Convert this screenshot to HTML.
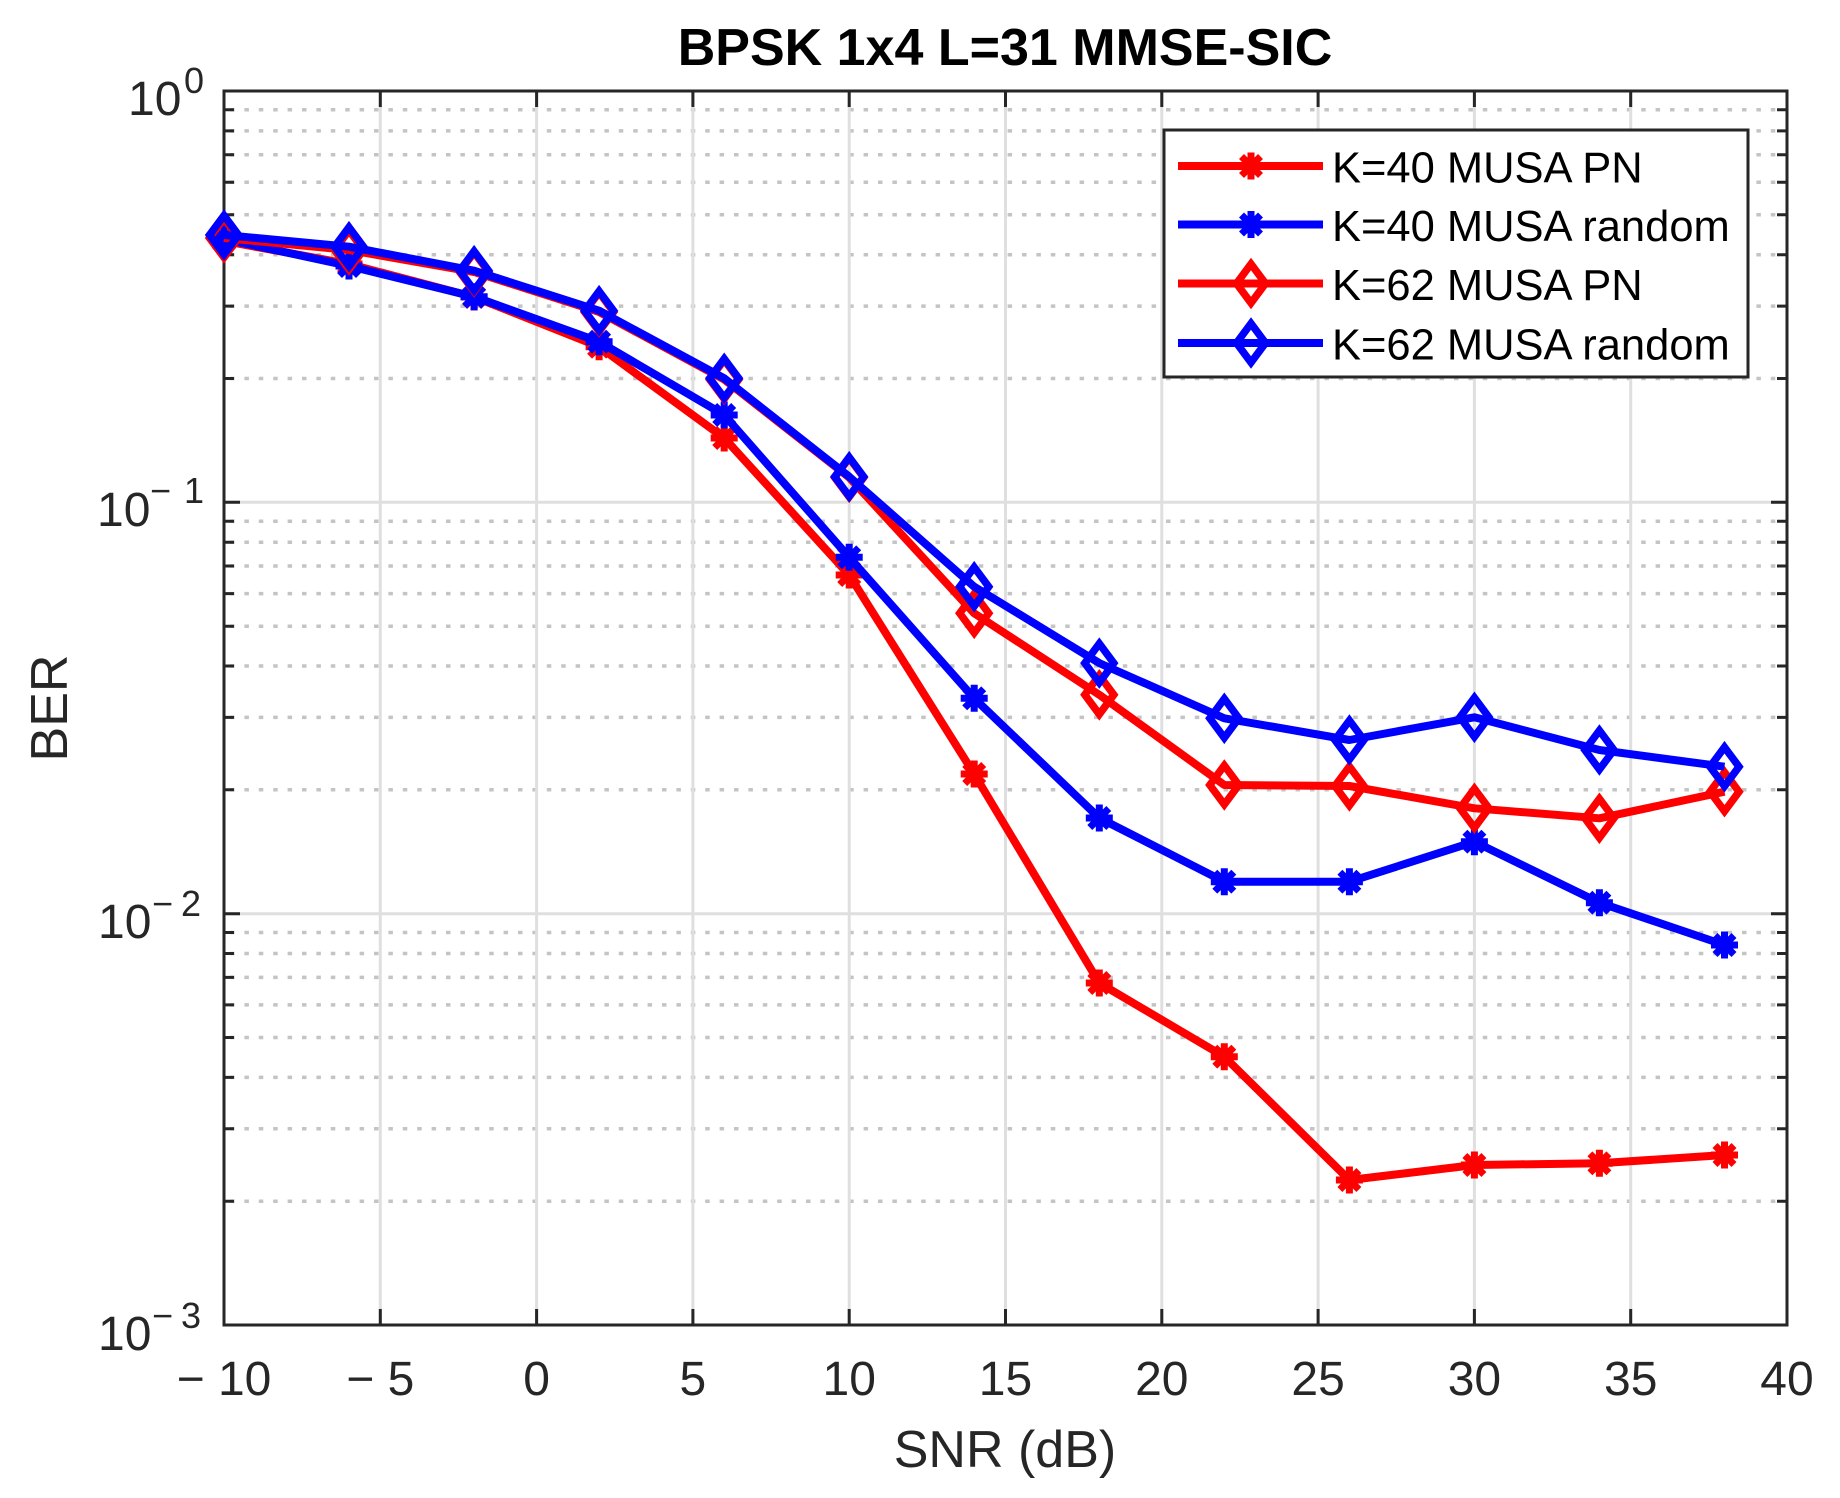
<!DOCTYPE html>
<html>
<head>
<meta charset="utf-8">
<style>
html,body{margin:0;padding:0;background:#fff;}
svg{display:block;}
text{font-family:"Liberation Sans",Arial,sans-serif;}
</style>
</head>
<body>
<svg width="1840" height="1498" viewBox="0 0 1840 1498" xmlns="http://www.w3.org/2000/svg">
<defs>
  <path id="dm" d="M0,-19.5 L14.5,0 L0,19.5 L-14.5,0 Z" fill="none" stroke-width="7.5" stroke-linejoin="miter"/>
  <path id="st" d="M-13.5,0H13.5M0,-13.5V13.5M-9.5,-9.5L9.5,9.5M-9.5,9.5L9.5,-9.5" fill="none" stroke-width="7"/>
</defs>
<rect x="0" y="0" width="1840" height="1498" fill="#fff"/>

<!-- minor y grid (dotted) -->
<g stroke="#c4c4c4" stroke-width="3.5" stroke-dasharray="4.5 9.9">
  <line x1="230" x2="1782" y1="109.8" y2="109.8"/>
  <line x1="230" x2="1782" y1="130.9" y2="130.9"/>
  <line x1="230" x2="1782" y1="154.7" y2="154.7"/>
  <line x1="230" x2="1782" y1="182.3" y2="182.3"/>
  <line x1="230" x2="1782" y1="214.8" y2="214.8"/>
  <line x1="230" x2="1782" y1="254.7" y2="254.7"/>
  <line x1="230" x2="1782" y1="306.1" y2="306.1"/>
  <line x1="230" x2="1782" y1="378.5" y2="378.5"/>
  <line x1="230" x2="1782" y1="521.2" y2="521.2"/>
  <line x1="230" x2="1782" y1="542.2" y2="542.2"/>
  <line x1="230" x2="1782" y1="566.0" y2="566.0"/>
  <line x1="230" x2="1782" y1="593.6" y2="593.6"/>
  <line x1="230" x2="1782" y1="626.2" y2="626.2"/>
  <line x1="230" x2="1782" y1="666.0" y2="666.0"/>
  <line x1="230" x2="1782" y1="717.4" y2="717.4"/>
  <line x1="230" x2="1782" y1="789.8" y2="789.8"/>
  <line x1="230" x2="1782" y1="932.5" y2="932.5"/>
  <line x1="230" x2="1782" y1="953.5" y2="953.5"/>
  <line x1="230" x2="1782" y1="977.4" y2="977.4"/>
  <line x1="230" x2="1782" y1="1004.9" y2="1004.9"/>
  <line x1="230" x2="1782" y1="1037.5" y2="1037.5"/>
  <line x1="230" x2="1782" y1="1077.4" y2="1077.4"/>
  <line x1="230" x2="1782" y1="1128.8" y2="1128.8"/>
  <line x1="230" x2="1782" y1="1201.2" y2="1201.2"/>
</g>
<!-- major grid -->
<g stroke="#dfdfdf" stroke-width="3">
  <line x1="224" x2="1787" y1="502.3" y2="502.3"/>
  <line x1="224" x2="1787" y1="913.7" y2="913.7"/>
  <line x1="380.3" x2="380.3" y1="91" y2="1325"/>
  <line x1="536.6" x2="536.6" y1="91" y2="1325"/>
  <line x1="692.9" x2="692.9" y1="91" y2="1325"/>
  <line x1="849.2" x2="849.2" y1="91" y2="1325"/>
  <line x1="1005.5" x2="1005.5" y1="91" y2="1325"/>
  <line x1="1161.8" x2="1161.8" y1="91" y2="1325"/>
  <line x1="1318.1" x2="1318.1" y1="91" y2="1325"/>
  <line x1="1474.4" x2="1474.4" y1="91" y2="1325"/>
  <line x1="1630.7" x2="1630.7" y1="91" y2="1325"/>
</g>

<!-- axes box and ticks -->
<g stroke="#262626" stroke-width="3" fill="none">
  <rect x="224" y="91" width="1563" height="1234"/>
  <path d="M380.3,1325V1309M536.6,1325V1309M692.9,1325V1309M849.2,1325V1309M1005.5,1325V1309M1161.8,1325V1309M1318.1,1325V1309M1474.4,1325V1309M1630.7,1325V1309
           M380.3,91V107M536.6,91V107M692.9,91V107M849.2,91V107M1005.5,91V107M1161.8,91V107M1318.1,91V107M1474.4,91V107M1630.7,91V107"/>
  <path d="M224,502.3H240M224,913.7H240M1787,502.3H1771M1787,913.7H1771"/>
  <path d="M224,109.8h10M224,130.9h10M224,154.7h10M224,182.3h10M224,214.8h10M224,254.7h10M224,306.1h10M224,378.5h10
           M224,521.2h10M224,542.2h10M224,566.0h10M224,593.6h10M224,626.2h10M224,666.0h10M224,717.4h10M224,789.8h10
           M224,932.5h10M224,953.5h10M224,977.4h10M224,1004.9h10M224,1037.5h10M224,1077.4h10M224,1128.8h10M224,1201.2h10"/>
  <path d="M1787,109.8h-10M1787,130.9h-10M1787,154.7h-10M1787,182.3h-10M1787,214.8h-10M1787,254.7h-10M1787,306.1h-10M1787,378.5h-10
           M1787,521.2h-10M1787,542.2h-10M1787,566.0h-10M1787,593.6h-10M1787,626.2h-10M1787,666.0h-10M1787,717.4h-10M1787,789.8h-10
           M1787,932.5h-10M1787,953.5h-10M1787,977.4h-10M1787,1004.9h-10M1787,1037.5h-10M1787,1077.4h-10M1787,1128.8h-10M1787,1201.2h-10"/>
</g>

<!-- Series 1: K=40 MUSA PN (red, asterisk) -->
<g stroke="#ff0000" fill="none">
  <polyline stroke-width="8" stroke-linejoin="round" points="224,241 349,264 474.1,297 599.1,346.7 724.2,438 849.2,575 974.2,774 1099.3,983 1224.3,1056.7 1349.4,1180 1474.4,1165 1599.4,1163.3 1724.5,1155"/>
  <use href="#st" x="224" y="241"/><use href="#st" x="349" y="264"/><use href="#st" x="474.1" y="297"/><use href="#st" x="599.1" y="346.7"/><use href="#st" x="724.2" y="438"/><use href="#st" x="849.2" y="575"/><use href="#st" x="974.2" y="774"/><use href="#st" x="1099.3" y="983"/><use href="#st" x="1224.3" y="1056.7"/><use href="#st" x="1349.4" y="1180"/><use href="#st" x="1474.4" y="1165"/><use href="#st" x="1599.4" y="1163.3"/><use href="#st" x="1724.5" y="1155"/>
</g>
<!-- Series 2: K=40 MUSA random (blue, asterisk) -->
<g stroke="#0000ff" fill="none">
  <polyline stroke-width="8" stroke-linejoin="round" points="224,239 349,266 474.1,296.7 599.1,341.7 724.2,415 849.2,557.3 974.2,698.3 1099.3,818 1224.3,881.7 1349.4,881.7 1474.4,841.7 1599.4,902.7 1724.5,945"/>
  <use href="#st" x="224" y="239"/><use href="#st" x="349" y="266"/><use href="#st" x="474.1" y="296.7"/><use href="#st" x="599.1" y="341.7"/><use href="#st" x="724.2" y="415"/><use href="#st" x="849.2" y="557.3"/><use href="#st" x="974.2" y="698.3"/><use href="#st" x="1099.3" y="818"/><use href="#st" x="1224.3" y="881.7"/><use href="#st" x="1349.4" y="881.7"/><use href="#st" x="1474.4" y="841.7"/><use href="#st" x="1599.4" y="902.7"/><use href="#st" x="1724.5" y="945"/>
</g>
<!-- Series 3: K=62 MUSA PN (red, diamond) -->
<g stroke="#ff0000" fill="none">
  <polyline stroke-width="8" stroke-linejoin="round" points="224,238 349,250 474.1,272 599.1,312 724.2,379.5 849.2,477.5 974.2,613.3 1099.3,694.8 1224.3,785 1349.4,786 1474.4,808.3 1599.4,818.3 1724.5,791.7"/>
  <use href="#dm" x="224" y="238"/><use href="#dm" x="349" y="250"/><use href="#dm" x="474.1" y="272"/><use href="#dm" x="599.1" y="312"/><use href="#dm" x="724.2" y="379.5"/><use href="#dm" x="849.2" y="477.5"/><use href="#dm" x="974.2" y="613.3"/><use href="#dm" x="1099.3" y="694.8"/><use href="#dm" x="1224.3" y="785"/><use href="#dm" x="1349.4" y="786"/><use href="#dm" x="1474.4" y="808.3"/><use href="#dm" x="1599.4" y="818.3"/><use href="#dm" x="1724.5" y="791.7"/>
</g>
<!-- Series 4: K=62 MUSA random (blue, diamond) -->
<g stroke="#0000ff" fill="none">
  <polyline stroke-width="8" stroke-linejoin="round" points="224,235 349,246.7 474.1,270.7 599.1,310.7 724.2,378.3 849.2,476.7 974.2,586.7 1099.3,663.1 1224.3,718.3 1349.4,740 1474.4,717.3 1599.4,750 1724.5,766.7"/>
  <use href="#dm" x="224" y="235"/><use href="#dm" x="349" y="246.7"/><use href="#dm" x="474.1" y="270.7"/><use href="#dm" x="599.1" y="310.7"/><use href="#dm" x="724.2" y="378.3"/><use href="#dm" x="849.2" y="476.7"/><use href="#dm" x="974.2" y="586.7"/><use href="#dm" x="1099.3" y="663.1"/><use href="#dm" x="1224.3" y="718.3"/><use href="#dm" x="1349.4" y="740"/><use href="#dm" x="1474.4" y="717.3"/><use href="#dm" x="1599.4" y="750"/><use href="#dm" x="1724.5" y="766.7"/>
</g>

<!-- Legend -->
<rect x="1164" y="130" width="584" height="247" fill="#fff" stroke="#262626" stroke-width="3"/>
<g fill="none">
  <line x1="1178" x2="1323" y1="166" y2="166" stroke="#ff0000" stroke-width="8"/>
  <use href="#st" x="1251" y="166" stroke="#ff0000"/>
  <line x1="1178" x2="1323" y1="224.5" y2="224.5" stroke="#0000ff" stroke-width="8"/>
  <use href="#st" x="1251" y="224.5" stroke="#0000ff"/>
  <line x1="1178" x2="1323" y1="283.5" y2="283.5" stroke="#ff0000" stroke-width="8"/>
  <use href="#dm" x="1251" y="283.5" stroke="#ff0000"/>
  <line x1="1178" x2="1323" y1="343" y2="343" stroke="#0000ff" stroke-width="8"/>
  <use href="#dm" x="1251" y="343" stroke="#0000ff"/>
</g>
<g font-size="43.5" fill="#000">
  <text x="1332" y="182.5">K=40 MUSA PN</text>
  <text x="1332" y="241">K=40 MUSA random</text>
  <text x="1332" y="300">K=62 MUSA PN</text>
  <text x="1332" y="359.5">K=62 MUSA random</text>
</g>

<!-- Title -->
<text x="1005" y="65" font-size="52" font-weight="bold" text-anchor="middle" fill="#000">BPSK 1x4 L=31 MMSE-SIC</text>

<!-- X tick labels -->
<g font-size="48" fill="#262626" text-anchor="middle">
  <text x="224" y="1395">− 10</text>
  <text x="380.3" y="1395">− 5</text>
  <text x="536.6" y="1395">0</text>
  <text x="692.9" y="1395">5</text>
  <text x="849.2" y="1395">10</text>
  <text x="1005.5" y="1395">15</text>
  <text x="1161.8" y="1395">20</text>
  <text x="1318.1" y="1395">25</text>
  <text x="1474.4" y="1395">30</text>
  <text x="1630.7" y="1395">35</text>
  <text x="1787" y="1395">40</text>
</g>

<!-- Y tick labels -->
<g fill="#262626">
  <text x="128" y="115" font-size="48">10</text>
  <text x="184" y="93" font-size="36">0</text>

  <text x="97" y="526" font-size="48">10</text>
  <text x="150" y="503" font-size="36">−</text>
  <text x="184" y="503" font-size="36">1</text>

  <text x="98" y="938" font-size="48">10</text>
  <text x="152" y="916" font-size="36">−</text>
  <text x="181" y="916" font-size="36">2</text>

  <text x="98" y="1350" font-size="48">10</text>
  <text x="152" y="1328" font-size="36">−</text>
  <text x="181" y="1328" font-size="36">3</text>
</g>

<!-- Axis labels -->
<text x="1005" y="1467" font-size="52" text-anchor="middle" fill="#262626">SNR (dB)</text>
<text transform="translate(67,708) rotate(-90)" font-size="52" text-anchor="middle" fill="#262626">BER</text>
</svg>
</body>
</html>
